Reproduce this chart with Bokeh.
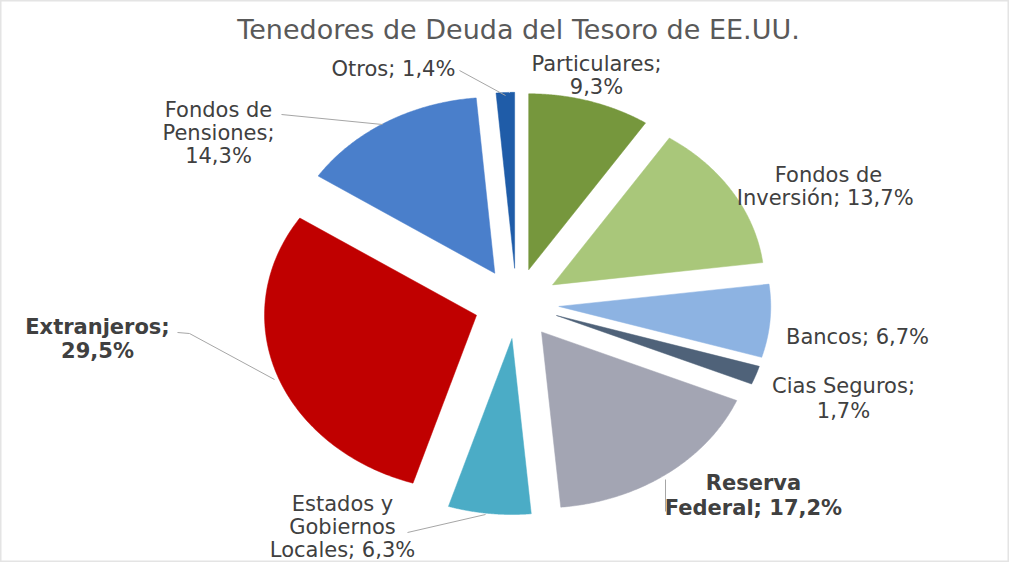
import numpy as np
from bokeh.plotting import figure
from bokeh.models import Range1d
from bokeh.embed import file_html
from bokeh.resources import INLINE
from bokeh.core.properties import value

# ---------------- data ----------------
title_text = "Tenedores de Deuda del Tesoro de EE.UU."
categories = ["Particulares", "Fondos de\nInversión", "Bancos", "Cias Seguros",
              "Reserva\nFederal", "Estados y\nGobiernos\nLocales", "Extranjeros",
              "Fondos de\nPensiones", "Otros"]
shares = [9.3, 13.7, 6.7, 1.7, 17.2, 6.3, 29.5, 14.3, 1.4]
colors = ["#76973D", "#A9C77A", "#8DB3E2", "#4F6279", "#A3A5B3",
          "#4BACC6", "#C00000", "#4A7FCB", "#1F5CA8"]
value_sep = ["\n", "  ", " ", "\n", " ", " ", "\n", "\n", " "]
bold = [False, False, False, False, True, False, True, False, False]

# ---------------- layout (pixels in page coords) ----------------
W, H = 1009, 562
OFF = 8
CX, CY = 524, 311        # pie centre on the page
RX, RY = 212, 176        # pie radii (px)
EXPLODE = 0.2

label_pos = [(604, 71), (836, 182), (865, 344), (851, 393), (761, 490),
             (350, 511), (105, 334), (226, 117), (401, 76)]
line_h = [23, 23, 24, 25, 25, 23, 24, 23, 24]
leader_lines = [
    [(467, 78), (513, 103)],
    [(289, 122), (390, 132)],
    [(185, 340), (197, 341), (282, 387)],
    [(415, 540), (493, 522)],
    [(673, 487), (673, 519)],
]


def to_data(sx, sy):
    return (sx - CX) / RX, (CY - sy) / RY


x0 = (OFF - CX) / RX
x1 = (OFF + W - CX) / RX
y1 = (CY - OFF) / RY
y0 = (CY - OFF - H) / RY

p = figure(width=W, height=H, output_backend="svg", toolbar_location=None,
           x_range=Range1d(x0, x1), y_range=Range1d(y0, y1),
           x_axis_location=None, y_axis_location=None, min_border=0)
p.grid.visible = False
p.background_fill_color = "white"
p.border_fill_color = "white"
p.outline_line_color = "#E4E4E4"
p.outline_line_width = 2

# ---------------- slices ----------------
total = float(sum(shares))
cum = np.concatenate([[0.0], np.cumsum(shares)]) / total * 2 * np.pi
xs, ys = [], []
for i in range(len(shares)):
    a0, a1 = cum[i], cum[i + 1]
    m = 0.5 * (a0 + a1)
    ax, ay = EXPLODE * np.sin(m), EXPLODE * np.cos(m)
    t = np.linspace(a0, a1, 120)
    px = np.concatenate([[ax], ax + np.sin(t)])
    py = np.concatenate([[ay], ay + np.cos(t)])
    xs.append(px.tolist())
    ys.append(py.tolist())
p.patches(xs, ys, fill_color=colors, line_color=colors, line_width=0.5)

# ---------------- leader lines ----------------
for seg in leader_lines:
    pts = [to_data(*q) for q in seg]
    p.line([q[0] for q in pts], [q[1] for q in pts], line_color="#A6A6A6", line_width=1)

# ---------------- labels ----------------
for i, cat in enumerate(categories):
    txt = cat + ";" + value_sep[i] + ("%.1f" % shares[i]).replace(".", ",") + "%"
    lines = txt.split("\n")
    sx, sy = label_pos[i]
    for k, ln in enumerate(lines):
        dx, dy = to_data(sx, sy + k * line_h[i])
        p.text([dx], [dy], text=[ln], text_align="center", text_baseline="middle",
               text_font=value("DejaVu Sans"), text_font_size="21px",
               text_color="#404040",
               text_font_style="bold" if bold[i] else "normal")

# ---------------- title ----------------
tx, ty = to_data(526, 37)
p.text([tx], [ty], text=[title_text], text_align="center", text_baseline="middle",
       text_font=value("DejaVu Sans"), text_font_size="27px", text_color="#595959")

open("out.html", "w").write(file_html(p, INLINE))
